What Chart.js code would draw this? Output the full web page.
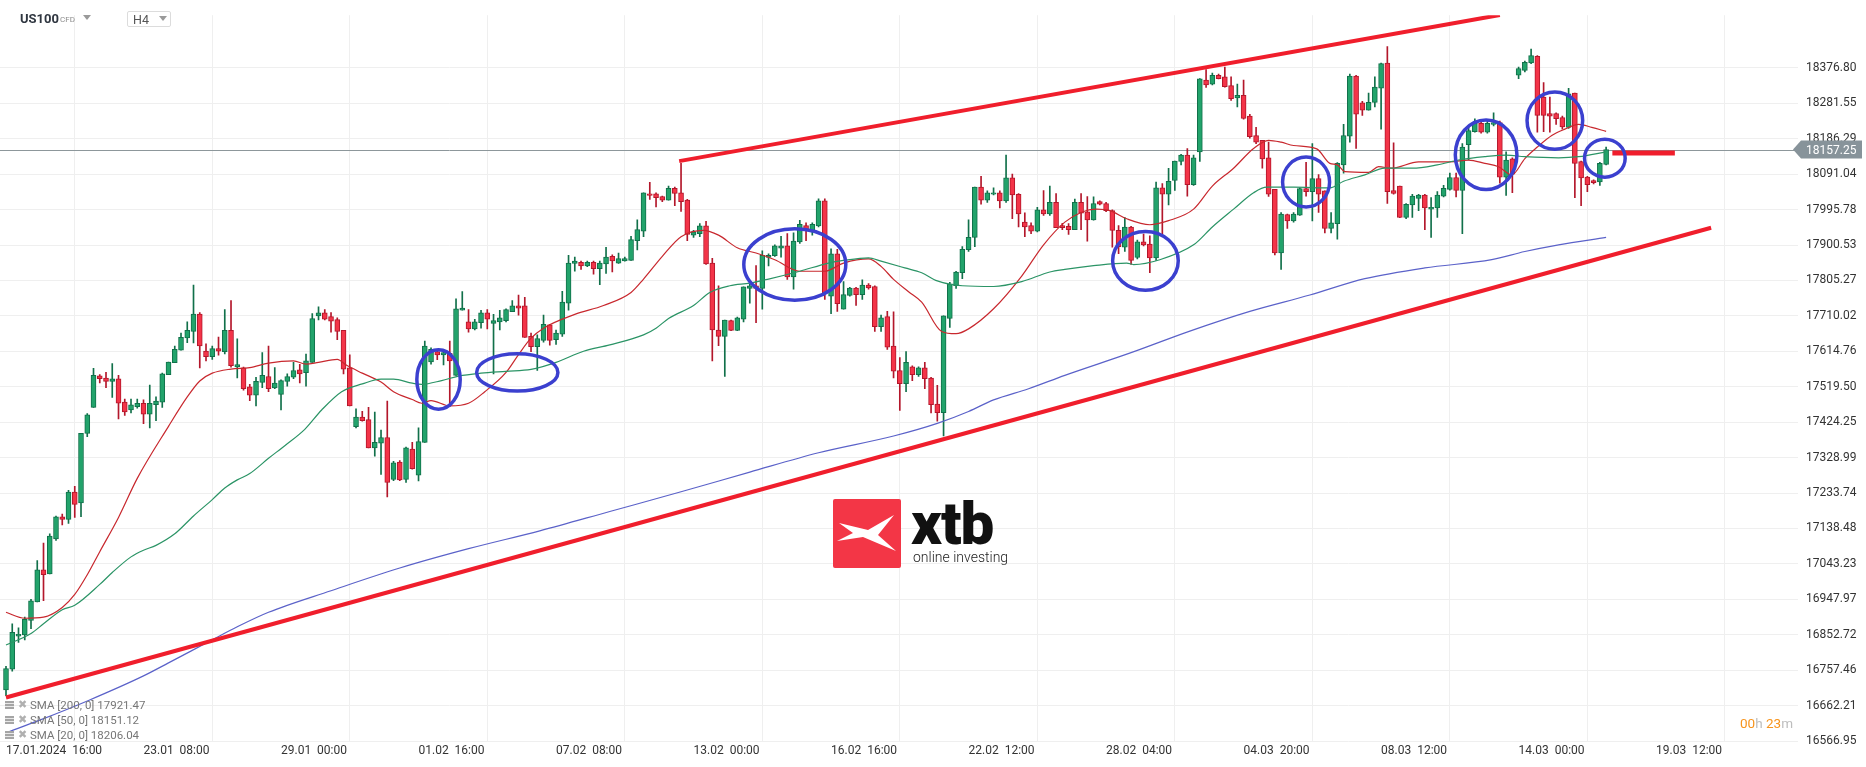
<!DOCTYPE html>
<html>
<head>
<meta charset="utf-8">
<script src="https://cdn.jsdelivr.net/npm/chart.js@4.4.1/dist/chart.umd.min.js"></script>
<style>
  html, body { margin: 0; padding: 0; background: #fff; }
  #wrap { position: relative; width: 1866px; height: 767px; overflow: hidden; font-family: Roboto, "Noto Sans", sans-serif; }
  #chart { position: absolute; left: 0; top: 0; }
  .abs { position: absolute; white-space: nowrap; }
  .tri { position: absolute; width: 0; height: 0; border-left: 4px solid transparent; border-right: 4px solid transparent; border-top: 5px solid #9a9a9a; }
  .leg { position: absolute; left: 5px; width: 200px; height: 14px; font-size: 11.5px; line-height: 14px; color: #777; white-space: nowrap; }
  .leg .ico { position: absolute; left: 0; top: 3px; width: 9px; height: 8px; background: repeating-linear-gradient(#a5a5a5 0 2px, #e8e8e8 2px 3px); }
  .leg .x { position: absolute; left: 13px; top: 0; color: #b0b0b0; font-size: 11px; }
  .leg .t { position: absolute; left: 25px; top: 0; }
</style>
</head>
<body>
<div id="wrap">
  <canvas id="chart" width="1866" height="767"></canvas>

  <div class="abs" style="left:20px; top:11px; font-weight:700; font-size:13px; line-height:16px; color:#2f3640;">US100</div>
  <div class="abs" style="left:60px; top:15px; font-size:8px; line-height:10px; color:#8c8c8c;">CFD</div>
  <div class="tri" style="left:83px; top:15px;"></div>
  <div class="abs" style="left:127px; top:11px; width:44px; height:16px; box-sizing:border-box; border:1px solid #dcdcdc; border-radius:2px;"></div>
  <div class="abs" style="left:133px; top:13px; font-size:12.5px; line-height:14px; color:#555;">H4</div>
  <div class="tri" style="left:159px; top:16px;"></div>

  <div class="leg" style="top:698px;"><span class="ico"></span><span class="x">✖</span><span class="t">SMA [200, 0] 17921.47</span></div>
  <div class="leg" style="top:713px;"><span class="ico"></span><span class="x">✖</span><span class="t">SMA [50, 0] 18151.12</span></div>
  <div class="leg" style="top:728px;"><span class="ico"></span><span class="x">✖</span><span class="t">SMA [20, 0] 18206.04</span></div>

  <div class="abs" style="left:833px; top:499px; width:68px; height:69px; background:#f33646; border-radius:2px;">
    <svg width="68" height="69" viewBox="0 0 68 69"><polygon fill="#fff" points="6,24 35,31 61,16 45,36 63,52 30,38 4,42 20,34"/></svg>
  </div>
  <div class="abs" style="left:911px; top:494px; font-weight:900; font-size:60px; line-height:60px; color:#111; letter-spacing:-1px;">xtb</div>
  <div class="abs" style="left:913px; top:550px; font-weight:300; font-size:14px; line-height:14px; color:#222;">online investing</div>

  <div class="abs" style="left:1740px; top:716px; font-size:13.5px; line-height:14px;"><span style="color:#f7941d">00</span><span style="color:#bdbdbd">h</span> <span style="color:#f7941d">23</span><span style="color:#bdbdbd">m</span></div>
</div>

<script>
// H4 candles, 17.01.2024 16:00 onwards
const opens = [16704,16760,16849,16852,16891,16941,17027,17016,17110,17170,
  17163,17236,17207,17394,17464,17549,17543,17534,17541,17478,
  17457,17466,17475,17446,17471,17478,17552,17584,17618,17651,
  17668,17715,17615,17600,17622,17614,17671,17573,17570,17519,
  17497,17531,17547,17516,17499,17534,17545,17565,17557,17585,
  17710,17718,17708,17700,17671,17570,17412,17438,17431,17355,
  17368,17383,17270,17317,17270,17352,17282,17370,17586,17614,
  17605,17609,17550,17725,17694,17675,17692,17718,17690,17694,
  17697,17721,17737,17737,17655,17627,17644,17686,17646,17661,
  17744,17851,17854,17844,17854,17837,17850,17870,17852,17858,
  17859,17912,17938,18038,18038,18031,18021,18053,18041,18021,
  17927,17931,17952,17852,17672,17655,17697,17671,17701,17784,
  17791,17784,17867,17872,17892,17898,17815,17909,17953,17936,
  17952,18019,17763,17877,17728,17765,17785,17767,17793,17789,
  17681,17708,17629,17563,17528,17573,17552,17570,17543,17473,
  17450,17703,17791,17826,17888,17921,18056,18021,18037,18041,
  18019,18081,18037,17962,17953,17938,17995,17984,18015,17953,
  17951,17942,18015,17990,17968,18017,18012,17993,17940,17895,
  17949,17867,17909,17903,17866,18054,18037,18074,18125,18142,
  18063,18151,18344,18333,18357,18353,18329,18296,18303,18247,
  18195,18182,18135,18050,17879,17982,17965,17981,18052,18044,
  18079,18046,17945,17958,18116,18193,18355,18283,18263,18284,
  18322,18390,18047,18059,17975,18008,18026,18035,17997,18000,
  18032,18050,18082,18047,18170,18205,18228,18204,18225,18230,
  18083,18132,18357,18370,18390,18408,18298,18254,18254,18243,
  18217,18309,18125,18083,18074,18070,18117];

const highs = [16768,16882,16871,16900,16948,17052,17099,17124,17172,17177,
  17241,17252,17394,17447,17569,17552,17558,17582,17550,17486,
  17486,17486,17484,17524,17492,17556,17586,17629,17664,17694,
  17793,17719,17635,17629,17653,17727,17751,17648,17572,17526,
  17545,17611,17629,17571,17538,17554,17585,17580,17607,17716,
  17734,17727,17719,17705,17671,17605,17460,17453,17464,17451,
  17403,17481,17319,17321,17357,17370,17409,17642,17624,17620,
  17620,17642,17756,17775,17727,17701,17725,17727,17714,17725,
  17729,17751,17766,17760,17664,17659,17712,17687,17672,17776,
  17873,17868,17857,17857,17857,17857,17894,17874,17879,17868,
  17924,17968,18041,18069,18041,18032,18059,18056,18120,18023,
  17940,17958,17964,17865,17791,17699,17699,17707,17788,17795,
  17845,17885,17877,17901,17924,17931,17933,17967,17960,17960,
  18025,18025,17890,17889,17802,17787,17787,17807,17797,17791,
  17712,17722,17721,17598,17614,17576,17573,17585,17545,17523,
  17710,17800,17830,17896,17968,18056,18085,18046,18054,18046,
  18142,18091,18039,17987,17960,18002,18047,18059,18039,17959,
  17958,18024,18039,18031,18030,18019,18015,17995,17953,17974,
  17951,17914,17930,17925,18070,18066,18107,18126,18144,18160,
  18142,18348,18372,18363,18360,18379,18353,18333,18344,18252,
  18217,18182,18177,18050,17988,17984,17988,18054,18123,18173,
  18090,18046,17988,18122,18225,18360,18357,18287,18309,18353,
  18390,18434,18175,18059,18012,18037,18037,18037,18028,18044,
  18061,18094,18094,18173,18217,18240,18234,18237,18256,18234,
  18151,18135,18379,18395,18427,18410,18337,18298,18256,18247,
  18322,18309,18126,18085,18076,18123,18164];

const lows = [16689,16755,16832,16839,16869,16941,16944,17016,17106,17148,
  17152,17168,17170,17385,17464,17530,17517,17491,17433,17442,
  17449,17462,17420,17409,17428,17464,17552,17584,17618,17638,
  17637,17570,17589,17593,17604,17608,17572,17543,17510,17482,
  17468,17517,17506,17514,17457,17521,17541,17530,17521,17585,
  17699,17699,17666,17646,17554,17468,17409,17427,17355,17333,
  17284,17223,17267,17267,17262,17298,17266,17370,17580,17592,
  17578,17466,17550,17725,17666,17672,17677,17675,17554,17672,
  17694,17721,17712,17652,17614,17563,17639,17631,17633,17655,
  17725,17830,17835,17842,17822,17794,17824,17828,17851,17857,
  17859,17887,17923,18023,18003,18017,18021,18006,17991,17912,
  17921,17923,17848,17589,17630,17547,17670,17670,17694,17744,
  17692,17728,17844,17870,17868,17808,17782,17905,17912,17927,
  17949,17754,17716,17722,17728,17763,17738,17754,17782,17668,
  17668,17620,17543,17456,17506,17536,17547,17514,17449,17427,
  17387,17679,17784,17810,17883,17896,18010,18015,18035,18000,
  18015,17971,17949,17923,17931,17936,17980,17980,17947,17942,
  17929,17942,17942,17911,17967,18008,17990,17895,17877,17883,
  17848,17863,17898,17826,17859,17923,18008,18047,18116,18032,
  18061,18125,18324,18331,18347,18325,18289,18272,18239,18188,
  18173,18107,18031,17874,17835,17945,17962,17980,18032,17965,
  17988,17933,17933,17916,18094,18177,18160,18249,18263,18272,
  18212,18012,18037,17974,17971,17975,17993,17942,17921,17975,
  18030,18048,18030,17931,18129,18204,18201,18201,18221,18067,
  18034,18041,18348,18366,18388,18204,18205,18204,18225,18212,
  18214,18028,18006,18044,18065,18061,18116];

const closes = [16762,16859,16854,16894,16944,17027,17014,17118,17170,17163,
  17236,17203,17394,17444,17550,17541,17534,17541,17475,17452,
  17471,17475,17446,17475,17481,17554,17586,17620,17652,17671,
  17715,17629,17600,17622,17615,17671,17576,17579,17514,17497,
  17534,17550,17514,17529,17536,17547,17563,17554,17589,17703,
  17718,17701,17696,17668,17567,17468,17438,17428,17355,17370,
  17383,17262,17315,17269,17355,17299,17372,17629,17620,17605,
  17611,17589,17729,17731,17675,17694,17718,17701,17697,17705,
  17727,17737,17731,17652,17627,17649,17687,17644,17664,17747,
  17852,17857,17844,17854,17837,17852,17868,17858,17864,17864,
  17915,17942,18041,18034,18028,18021,18053,18039,18017,17929,
  17936,17952,17850,17672,17655,17699,17671,17705,17788,17791,
  17784,17873,17873,17898,17898,17815,17911,17956,17942,17956,
  18019,17769,17877,17743,17767,17785,17767,17793,17785,17681,
  17705,17626,17561,17528,17585,17552,17570,17541,17471,17450,
  17710,17795,17828,17889,17921,18056,18021,18041,18041,18019,
  18081,18035,17984,17949,17938,17995,17984,18015,17947,17947,
  17942,18015,17986,17968,18012,18010,17993,17940,17896,17949,
  17859,17909,17901,17866,18054,18037,18072,18126,18142,18063,
  18135,18347,18331,18357,18348,18326,18294,18303,18241,18192,
  18177,18132,18037,17879,17984,17965,17984,18052,18044,18079,
  18037,17945,17960,18120,18195,18355,18252,18263,18284,18325,
  18388,18044,18039,17975,18010,18032,18035,18000,18002,18035,
  18053,18082,18047,18164,18208,18228,18204,18228,18230,18083,
  18129,18091,18375,18392,18410,18249,18249,18247,18240,18218,
  18307,18120,18081,18063,18068,18120,18157.25];

// moving averages: [candle index, price]
const sma20 = [[0,16913],[3,16897],[6,16900],[9,16926],[11,16961],[13,17014],[15,17076],[18,17168],[21,17273],[26,17413],
  [29,17492],[31,17535],[33,17556],[36,17567],[39,17571],[42,17583],[46,17589],[48,17580],[50,17585],[53,17593],
  [54.5,17577],[57,17556],[60,17532],[62,17506],[65,17485],[66.5,17475],[68,17482],[71,17468],[74,17475],[76.6,17506],
  [80,17558],[82,17606],[84,17650],[86,17677],[91,17714],[95.6,17738],[100,17773],[102,17809],[105,17870],[108,17923],
  [111.6,17940],[114,17927],[117,17893],[120,17879],[123,17861],[127,17830],[131,17830],[134,17852],[138,17863],[140,17843],
  [142,17808],[144.4,17775],[146.5,17747],[149.7,17668],[152,17662],[154,17675],[158,17729],[162.5,17817],[166,17901],[169.4,17962],
  [172,17988],[174.5,17997],[176.6,17993],[179.3,17971],[183,17955],[186,17966],[190,17997],[193,18059],[196.4,18107],[199.6,18160],
  [202,18182],[204,18177],[206,18168],[209.7,18159],[211.8,18120],[213,18116],[214.2,18098],[218,18096],[219.6,18111],[221.7,18107],
  [226,18124],[231,18124],[234,18129],[236.6,18120],[238.8,18111],[240.9,18089],[243,18133],[245,18164],[247.3,18195],[249.4,18212],
  [251.6,18225],[253.7,18217],[256,18206]];

const sma50 = [[0,16825],[4,16856],[6,16882],[9,16920],[11,16932],[15,16988],[17,17020],[20,17062],[22,17080],[24,17093],
  [27,17124],[30,17172],[33,17216],[35,17247],[37,17269],[39,17286],[42,17327],[44.6,17361],[47.8,17405],[50.5,17457],
  [53.7,17506],[57,17527],[60,17540],[62,17540],[65,17529],[66.5,17526],[69.7,17536],[72.4,17548],[76,17556],[80,17561],
  [84,17566],[88,17585],[92.4,17615],[96.6,17632],[102,17659],[104,17677],[106,17703],[110,17738],[112.6,17773],[115.8,17791],
  [119,17798],[122,17809],[127,17830],[131.6,17852],[134,17859],[138,17866],[140,17857],[143.8,17839],[146.5,17826],[149,17804],
  [153,17791],[158,17789],[162.5,17802],[167,17828],[169.4,17835],[174,17845],[179.3,17852],[180.4,17848],[184.6,17861],[190,17901],
  [193,17949],[196.4,17997],[199.6,18041],[201.7,18056],[206,18056],[211.8,18054],[214,18072],[217.4,18089],[220.6,18107],[225,18107],
  [229,18116],[232.4,18129],[236.6,18138],[240,18142],[243,18138],[248.4,18135],[251.6,18138],[256,18151]];

const sma200 = [[0,16589],[5.4,16623],[13.2,16676],[22,16742],[26,16777],[33,16839],[37,16874],[42,16913],[52,16971],[63,17032],
  [74,17084],[85.4,17132],[96.6,17184],[108,17237],[119,17290],[130,17342],[142,17387],[149,17421],[154,17453],[158,17484],
  [163.6,17514],[169.4,17550],[180,17611],[189.4,17669],[199,17722],[208.6,17766],[217.4,17810],[227,17839],[237.7,17861],[243,17883],
  [248.4,17901],[256,17921]];

// hand drawn marks: [candle index, price]
const lowerTrend = [[0,16684],[272.8,17947]];
const upperTrend = [[107.7,18126],[239,18519]];
const priceStub = [[257,18148],[267,18148]];
// circles: [centre index, centre price, half width (candles), half height (points)]
const circles = [[69.2,17539,3.47,80],[81.8,17558,6.5,50],[126.2,17848,8.16,96],[182.3,17858,5.25,79],
  [208,18070,3.76,67],[236.8,18143,4.93,93.5],[247.8,18235,4.45,77],[255.8,18134,3.25,51]];

const tickIdx = [0,22,44,66,88,110,132,154,176,198,220,242,264];
const tickLabels = ['17.01.2024  16:00','23.01  08:00','29.01  00:00','01.02  16:00','07.02  08:00','13.02  00:00',
  '16.02  16:00','22.02  12:00','28.02  04:00','04.03  20:00','08.03  12:00','14.03  00:00','19.03  12:00'];
const yTickLabels = ['18376.80','18281.55','18186.29','18091.04','17995.78','17900.53','17805.27','17710.02','17614.76',
  '17519.50','17424.25','17328.99','17233.74','17138.48','17043.23','16947.97','16852.72','16757.46','16662.21','16566.95'];

const last = closes[closes.length - 1];
const isUp = closes.map((c, i) => c >= opens[i]);
const pts = arr => arr.map(p => ({x: p[0], y: p[1]}));

const overlay = {
  id: 'overlay',
  beforeDatasetsDraw(chart) {
    const {ctx, chartArea: a, scales: {y}} = chart;
    const py = Math.round(y.getPixelForValue(last)) + 0.5;
    ctx.save();
    ctx.strokeStyle = '#8d979b';
    ctx.lineWidth = 1;
    ctx.beginPath();
    ctx.moveTo(a.left, py);
    ctx.lineTo(a.right, py);
    ctx.stroke();
    ctx.restore();
  },
  afterDatasetsDraw(chart) {
    const {ctx, chartArea: a, scales: {x, y}} = chart;
    ctx.save();
    ctx.beginPath();
    ctx.rect(a.left, a.top, a.right - a.left, a.bottom - a.top);
    ctx.clip();
    ctx.strokeStyle = '#3b40cf';
    ctx.lineWidth = 3.5;
    circles.forEach(c => {
      const cx = x.getPixelForValue(c[0]);
      const cy = y.getPixelForValue(c[1]);
      const rx = x.getPixelForValue(c[0] + c[2]) - cx;
      const ry = cy - y.getPixelForValue(c[1] + c[3]);
      ctx.beginPath();
      ctx.ellipse(cx, cy, rx, ry, 0, 0, Math.PI * 2);
      ctx.stroke();
    });
    ctx.restore();
  },
  afterDraw(chart) {
    const {ctx, chartArea: a, scales: {y}} = chart;
    const py = y.getPixelForValue(last);
    ctx.save();
    ctx.fillStyle = '#87939a';
    ctx.beginPath();
    ctx.moveTo(a.right - 5, py);
    ctx.lineTo(a.right + 3, py - 9);
    ctx.lineTo(1862, py - 9);
    ctx.lineTo(1862, py + 9);
    ctx.lineTo(a.right + 3, py + 9);
    ctx.closePath();
    ctx.fill();
    ctx.fillStyle = '#fff';
    ctx.font = '12px Roboto';
    ctx.textBaseline = 'middle';
    ctx.fillText(last.toFixed(2), a.right + 8, py + 1);
    ctx.restore();
  }
};

const ctx = document.getElementById('chart').getContext('2d');
new Chart(ctx, {
  type: 'bar',
  data: {
    datasets: [
      { type: 'line', data: pts(lowerTrend), borderColor: '#f01e2c', borderWidth: 4, pointRadius: 0, order: -2 },
      { type: 'line', data: pts(upperTrend), borderColor: '#f01e2c', borderWidth: 4, pointRadius: 0, order: -2 },
      { type: 'line', data: pts(priceStub), borderColor: '#f01e2c', borderWidth: 5, pointRadius: 0, order: -2 },
      { type: 'line', data: pts(sma200), borderColor: '#5b62c9', borderWidth: 1.2, pointRadius: 0, cubicInterpolationMode: 'monotone', order: 0 },
      { type: 'line', data: pts(sma50), borderColor: '#2b9466', borderWidth: 1.2, pointRadius: 0, cubicInterpolationMode: 'monotone', order: 0 },
      { type: 'line', data: pts(sma20), borderColor: '#c8282e', borderWidth: 1.2, pointRadius: 0, cubicInterpolationMode: 'monotone', order: 0 },
      {
        data: opens.map((o, i) => ({x: i, y: [o, closes[i]]})),
        backgroundColor: isUp.map(u => u ? '#22a36b' : '#f33448'),
        borderColor: isUp.map(u => u ? '#11704a' : '#b3172b'),
        borderWidth: 1, borderSkipped: false, barThickness: 5, minBarLength: 1, grouped: false, order: 1
      },
      {
        data: lows.map((l, i) => ({x: i, y: [l, highs[i]]})),
        backgroundColor: isUp.map(u => u ? '#11704a' : '#b3172b'),
        barThickness: 1, grouped: false, order: 2
      }
    ]
  },
  options: {
    responsive: false,
    animation: false,
    layout: { padding: 0 },
    plugins: { legend: { display: false }, tooltip: { enabled: false } },
    scales: {
      x: {
        type: 'linear', min: -0.96, max: 286.7, offset: false,
        grid: { color: '#efefef', drawTicks: false },
        border: { display: false },
        afterBuildTicks: s => { s.ticks = tickIdx.map(v => ({ value: v })); },
        afterFit: s => { s.height = 26; },
        ticks: {
          autoSkip: false, maxRotation: 0, minRotation: 0, align: 'start', padding: 3,
          color: '#333', font: { family: 'Roboto', size: 12 },
          callback: (v, i) => tickLabels[i]
        }
      },
      y: {
        position: 'right', min: 16566.95, max: 18518.4,
        grid: { color: '#efefef', drawTicks: false },
        border: { display: false },
        afterBuildTicks: s => { s.ticks = yTickLabels.map(t => ({ value: parseFloat(t) })); },
        afterFit: s => { s.width = 68; },
        ticks: {
          padding: 8, color: '#333', font: { family: 'Roboto', size: 12 },
          callback: (v, i) => yTickLabels[i]
        }
      }
    }
  },
  plugins: [overlay]
});
</script>
</body>
</html>
